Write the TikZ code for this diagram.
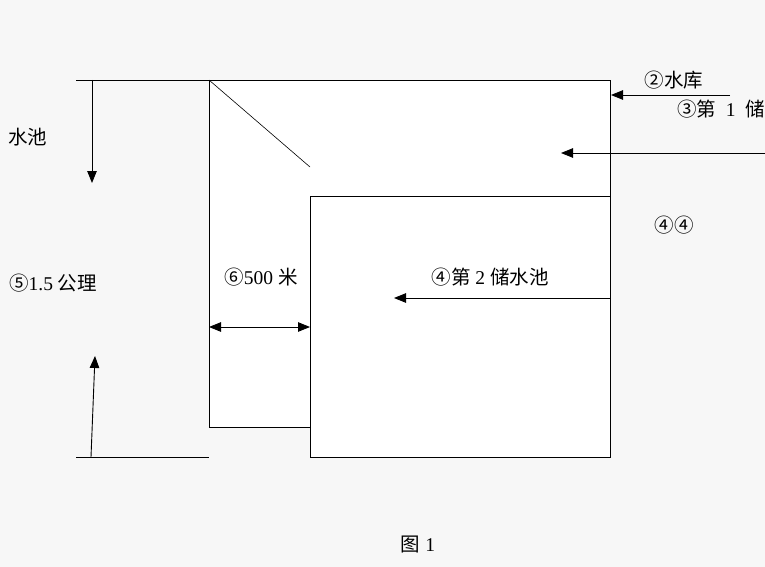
\documentclass[tikz,border=0pt]{standalone}
\usepackage{fontspec}
\setmainfont{Liberation Serif}
\newfontfamily\cjk{Noto Sans CJK SC}
\definecolor{PageGray}{RGB}{247,247,247}
\usetikzlibrary{arrows.meta}
\tikzset{
    flecha/.style={-{Triangle[length=12pt,width=9.5pt]}, line width=0.9pt},
    rotulo/.style={inner sep=0pt, font=\fontsize{19.5}{19.5}\selectfont}
}

\begin{document}
\begin{tikzpicture}[x=1pt, y=-1pt]

\useasboundingbox[fill=PageGray] (0,0) rectangle (765,567);

\coordinate (A) at (209, 80);
\coordinate (B) at (610, 80);
\coordinate (C) at (610, 196);
\coordinate (D) at (310, 196);
\coordinate (E) at (610, 457);
\coordinate (H) at (209, 427);
\coordinate (G) at (310, 427);
\coordinate (M) at (310, 167);

% Rellenar los dos depositos
\filldraw[fill=white, line width=0.9pt] (A) rectangle (610, 427);
\filldraw[fill=white, line width=0.9pt] (D) rectangle (E);
\draw[line width=0.6pt] (A) -- (M);

% Lineas de cota a la izquierda
\coordinate (T0) at (76, 80);
\coordinate (B0) at (76, 457);
\coordinate (B1) at (209, 457);
\draw[line width=0.9pt] (T0) -- (A);
\draw[line width=0.9pt] (B0) -- (B1);

\coordinate (P1) at (92, 80);
\coordinate (P2) at (92, 183);
\coordinate (Q1) at (91, 457);
\coordinate (Q2) at (95, 356);
\draw[flecha] (P1) -- (P2);
\draw[flecha] (Q1) -- (Q2);

% Flechas de entrada
\coordinate (R1) at (730, 95);
\coordinate (R2) at (611, 95);
\coordinate (S1) at (765, 153);
\coordinate (S2) at (561, 153);
\coordinate (U1) at (610, 298);
\coordinate (U2) at (394, 298);
\draw[flecha] (R1) -- (R2);
\draw[flecha] (S1) -- (S2);
\draw[flecha] (U1) -- (U2);

\coordinate (V1) at (209, 327);
\coordinate (V2) at (310, 327);
\draw[{Triangle[length=12pt,width=9.5pt]}-{Triangle[length=12pt,width=9.5pt]}, line width=0.9pt] (V1) -- (V2);

% Textos
\node[rotulo] (embalse)  at (674, 80)  {\cjk ②水库};
\node[rotulo] (primero)  at (721, 109) {{\cjk ③第}\ \ 1\ \ {\cjk 储}};
\node[rotulo] (pozo)     at (28, 137)  {\cjk 水池};
\node[rotulo] (altura)   at (53, 283)  {{\cjk ⑤}1.5 {\cjk 公理}};
\node[rotulo] (ancho)    at (261, 277) {{\cjk ⑥}500 {\cjk 米}};
\node[rotulo] (segundo)  at (490, 277) {{\cjk ④第} 2 {\cjk 储水池}};
\node[rotulo] (dobles)   at (674, 225) {\cjk ④④};
\node[rotulo] (titulo)   at (418, 545) {{\cjk 图} 1};

\end{tikzpicture}
\end{document}
